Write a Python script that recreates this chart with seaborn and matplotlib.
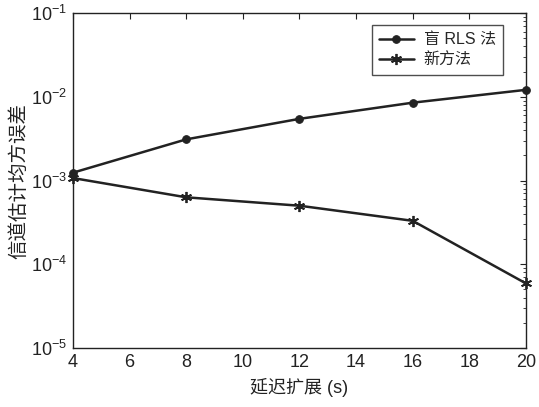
import numpy as np
import pandas as pd
import matplotlib
matplotlib.use("Agg")
import matplotlib.pyplot as plt
import matplotlib.ticker as mticker
import seaborn as sns

# Datos
delay_spread = [4, 8, 12, 16, 20]
mse_blind_rls = [1.24e-3, 3.1e-3, 5.45e-3, 8.5e-3, 1.21e-2]
mse_new = [1.07e-3, 6.3e-4, 5.0e-4, 3.3e-4, 5.9e-5]
series_names = ["盲 RLS 法", "新方法"]

sns.set_theme(style="white")
plt.rcParams['font.family'] = ['Liberation Sans', 'Noto Sans CJK SC', 'DejaVu Sans']
plt.rcParams['axes.unicode_minus'] = False
plt.rcParams['mathtext.fontset'] = 'custom'
plt.rcParams['mathtext.rm'] = 'Liberation Sans'

df = pd.DataFrame({
    "x": delay_spread * 2,
    "y": mse_blind_rls + mse_new,
    "serie": [series_names[0]] * len(delay_spread) + [series_names[1]] * len(delay_spread),
})

ink = "#222222"
fig = plt.figure(figsize=(5.39, 4.07), dpi=100)
ax = fig.add_axes([0.1354, 0.145, 0.8404, 0.823])

sns.lineplot(data=df[df.serie == series_names[0]], x="x", y="y", ax=ax, color=ink,
             marker="o", markersize=5.5, linewidth=1.8, label=series_names[0],
             markeredgecolor=ink, clip_on=False, zorder=3)
sns.lineplot(data=df[df.serie == series_names[1]], x="x", y="y", ax=ax, color=ink,
             marker=(6, 2, 0), markersize=8, markeredgewidth=1.3, linewidth=1.8,
             label=series_names[1], markeredgecolor=ink, clip_on=False, zorder=3)

ax.set_yscale("log")
ax.set_xlim(4, 20)
ax.set_ylim(1e-5, 1e-1)
ax.set_xticks(np.arange(4, 21, 2))
ax.yaxis.set_major_locator(mticker.LogLocator(base=10, numticks=10))
ax.yaxis.set_minor_locator(mticker.LogLocator(base=10, subs=np.arange(2, 10), numticks=10))
ax.tick_params(axis="both", which="both", direction="in", top=True, right=True,
               labelsize=13, colors=ink)
ax.tick_params(axis="both", which="major", length=4, width=0.8)
ax.tick_params(axis="y", which="minor", length=2.5, width=0.6)
ax.tick_params(axis="x", pad=4)
ax.tick_params(axis="y", pad=4)
for s in ax.spines.values():
    s.set_color(ink)
    s.set_linewidth(1.0)

ax.set_xlabel("延迟扩展 (s)", fontsize=13, color=ink, labelpad=5)
ax.set_ylabel("信道估计均方误差", fontsize=14, color=ink, labelpad=2)

leg = ax.legend(loc="upper right", bbox_to_anchor=(0.949, 0.964), borderaxespad=0,
                fontsize=11.5, frameon=True, fancybox=False, edgecolor=ink,
                handlelength=2.2, borderpad=0.45, labelspacing=0.35, handletextpad=0.6)
leg.get_frame().set_linewidth(1.0)

plt.savefig("out.png", dpi=100)
